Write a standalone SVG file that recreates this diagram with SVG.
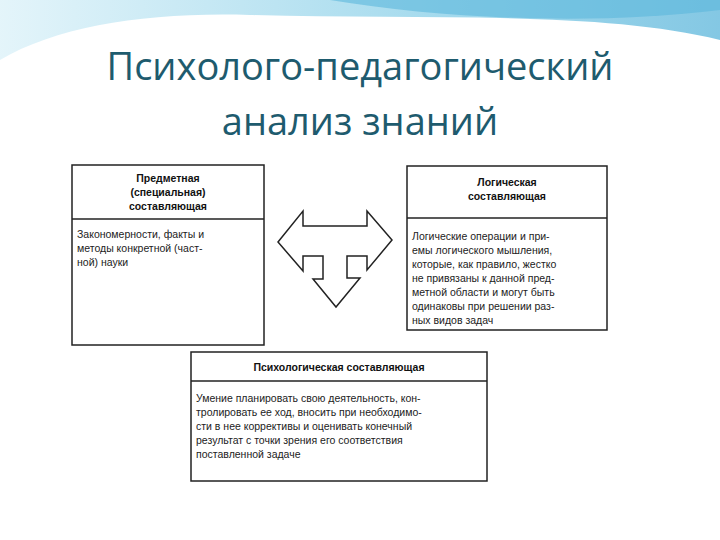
<svg xmlns="http://www.w3.org/2000/svg" width="720" height="540" viewBox="0 0 720 540">
<defs>
<linearGradient id="sw" x1="0" y1="0" x2="1" y2="0"><stop offset="0" stop-color="#d8f0f8"/><stop offset="0.6" stop-color="#7fcbe6"/><stop offset="1" stop-color="#4fb0d8"/></linearGradient>
<style>
.t{font-family:"Liberation Sans",Arial,sans-serif;font-size:10.5px;fill:#222}
.h{font-family:"Liberation Sans",Arial,sans-serif;font-size:10.5px;font-weight:bold;fill:#111;text-anchor:middle}
.b{fill:#fff;stroke:#222;stroke-width:1.5}
.title{font-family:"Open Sans","DejaVu Sans",sans-serif;font-size:38px;fill:#1e5b6e;text-anchor:middle}
</style>
</defs>
<rect width="720" height="540" fill="#fff"/>
<path d="M0,0 H720 V40 C600,10 420,20 250,15 C150,12 60,25 0,60 Z" fill="url(#sw)" opacity="0.7"/>
<path d="M330,0 C450,20 600,25 720,10 V0 Z" fill="#5bb8dc" opacity="0.6"/>
<text class="title" x="360" y="80">Психолого-педагогический</text>
<text class="title" x="360" y="135">анализ знаний</text>
<g id="node-subject">
<rect class="b" x="72" y="165" width="192" height="180"/>
<line x1="72" y1="219" x2="264" y2="219" stroke="#222" stroke-width="1.5"/>
<text class="h" x="168" y="182">Предметная</text>
<text class="h" x="168" y="196">(специальная)</text>
<text class="h" x="168" y="210">составляющая</text>
<text class="t" x="77" y="238">Закономерности, факты и</text>
<text class="t" x="77" y="252">методы конкретной (част-</text>
<text class="t" x="77" y="266">ной) науки</text>
</g>
<g id="node-logic">
<rect class="b" x="407" y="166" width="200" height="164"/>
<line x1="407" y1="218" x2="607" y2="218" stroke="#222" stroke-width="1.5"/>
<text class="h" x="507" y="186">Логическая</text>
<text class="h" x="507" y="200">составляющая</text>
<text class="t" x="412" y="240">Логические операции и при-</text>
<text class="t" x="412" y="254">емы логического мышления,</text>
<text class="t" x="412" y="268">которые, как правило, жестко</text>
<text class="t" x="412" y="282">не привязаны к данной пред-</text>
<text class="t" x="412" y="296">метной области и могут быть</text>
<text class="t" x="412" y="310">одинаковы при решении раз-</text>
<text class="t" x="412" y="324">ных видов задач</text>
</g>
<g id="node-psych">
<rect class="b" x="191" y="352" width="296" height="129"/>
<line x1="191" y1="381" x2="487" y2="381" stroke="#222" stroke-width="1.5"/>
<text class="h" x="339" y="371">Психологическая составляющая</text>
<text class="t" x="196" y="402">Умение планировать свою деятельность, кон-</text>
<text class="t" x="196" y="416">тролировать ее ход, вносить при необходимо-</text>
<text class="t" x="196" y="430">сти в нее коррективы и оценивать конечный</text>
<text class="t" x="196" y="444">результат с точки зрения его соответствия</text>
<text class="t" x="196" y="458">поставленной задаче</text>
</g>
<g id="connectors">
<polygon points="278,242 303,211 303,226 367,226 367,211 392,240 367,270 367,256 347,256 347,278 360,278 336,307 313,279 323,279 323,256 303,256 303,271" fill="#fff" stroke="#222" stroke-width="1.5" stroke-linejoin="miter"/>
</g>
</svg>
